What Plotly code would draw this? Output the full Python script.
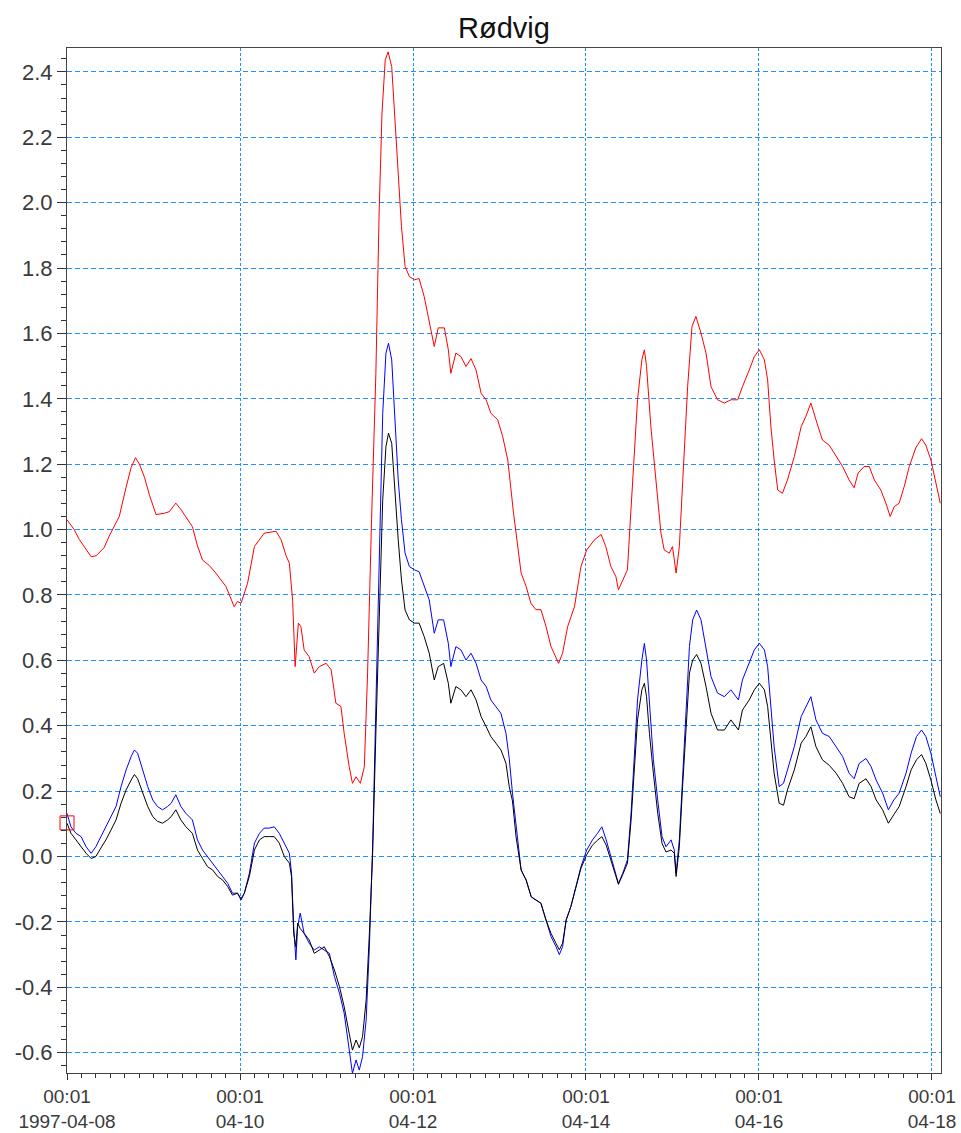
import pandas as pd
import plotly.graph_objects as go

TITLE = "Rødvig"
START = "1997-04-08 00:01"

red_hours = [0, 2.0, 3.4, 6.7, 8.1, 10.3, 11.7, 14.5, 16.4, 17.8, 19.0, 20.1, 21.5, 22.9, 24.7, 27.0, 28.4,
             30.2, 31.7, 34.8, 36.2, 37.6, 39.5, 41.3, 44.1, 46.4, 47.3, 48.3, 50.1, 52.0, 54.7, 58.0, 59.4,
             60.8, 61.7, 62.6, 63.3, 63.6, 64.2, 64.9, 65.8, 67.2, 68.6, 70.0, 71.9, 73.3, 74.6, 76.0, 76.9,
             78.3, 79.2, 80.2, 81.4, 82.5, 83.4, 84.5, 85.7, 86.6, 87.4, 88.3, 89.1, 90.1, 91.0, 91.9, 92.8,
             93.8, 95.0, 96.4, 97.7, 99.1, 100.5, 101.9, 103.0, 104.7, 105.8, 106.5, 107.9, 109.3, 110.7,
             112.1, 113.5, 114.9, 116.3, 117.6, 119.5, 120.9, 122.3, 123.9, 126.0, 127.4, 128.7, 130.1,
             131.5, 132.9, 134.3, 135.7, 136.4, 137.5, 138.9, 140.8, 142.6, 144.2, 146.3, 148.2, 149.5,
             150.9, 152.3, 153.0, 154.2, 155.5, 156.2, 157.1, 158.3, 159.5, 160.2, 160.8, 162.0, 163.4,
             164.8, 165.7, 167.1, 168.0, 169.0, 169.9, 170.8, 172.2, 173.4, 174.5, 175.9, 177.3, 178.7,
             180.5, 182.4, 184.2, 186.1, 187.4, 189.3, 190.7, 192.1, 193.5, 194.4, 195.3, 196.2, 197.2,
             198.5, 199.9, 201.8, 203.7, 205.0, 206.4, 207.8, 209.6, 211.5, 213.4, 215.2, 217.0, 218.4,
             219.5, 221.2, 222.6, 224.0, 225.8, 227.2, 228.4, 229.5, 230.9, 232.3, 233.7, 235.5, 237.1,
             238.3, 239.7, 241.1, 242.3]
red_vals = [1.03, 1.00, 0.97, 0.917, 0.92, 0.945, 0.98, 1.04, 1.13, 1.19, 1.22, 1.20, 1.16, 1.105, 1.046, 1.05, 1.055,
            1.081, 1.06, 1.009, 0.95, 0.907, 0.89, 0.867, 0.826, 0.764, 0.78, 0.775, 0.836, 0.948, 0.989, 0.995, 0.969,
            0.92, 0.897, 0.785, 0.581, 0.62, 0.714, 0.703, 0.632, 0.611, 0.561, 0.581, 0.591, 0.571, 0.469, 0.459, 0.377,
            0.275, 0.224, 0.244, 0.224, 0.275, 0.561, 1.03, 1.478, 1.968, 2.274, 2.437, 2.461, 2.416, 2.253, 2.09, 1.927,
            1.805, 1.774, 1.764, 1.768, 1.713, 1.641, 1.56, 1.617, 1.617, 1.55, 1.478, 1.54, 1.529, 1.499,
            1.523, 1.488, 1.417, 1.397, 1.356, 1.336, 1.284, 1.213, 1.05, 0.867, 0.826, 0.775, 0.755,
            0.755, 0.704, 0.642, 0.611, 0.591, 0.622, 0.703, 0.764, 0.887, 0.938, 0.968, 0.985, 0.948,
            0.887, 0.856, 0.816, 0.846, 0.877, 1.009, 1.193, 1.397, 1.519, 1.55, 1.499, 1.315, 1.152,
            0.989, 0.938, 0.928, 0.948, 0.867, 0.948, 1.152, 1.437, 1.621, 1.652, 1.601, 1.54, 1.437,
            1.397, 1.387, 1.397, 1.397, 1.437, 1.488, 1.529, 1.55, 1.519, 1.458, 1.315, 1.213, 1.121,
            1.111, 1.152, 1.223, 1.315, 1.346, 1.387, 1.336, 1.274, 1.258, 1.223, 1.193, 1.152, 1.128,
            1.173, 1.193, 1.193, 1.152, 1.121, 1.081, 1.04, 1.07, 1.081, 1.132, 1.193, 1.25, 1.278,
            1.258, 1.213, 1.142, 1.081]

blue_hours = [0, 1.1, 2.5, 3.9, 5.3, 6.7, 8.0, 9.4, 10.8, 12.2, 13.6, 15.0, 16.4, 17.8, 18.7, 19.6, 21.0, 22.4,
              23.8, 25.1, 26.5, 27.9, 28.9, 30.2, 31.6, 33.0, 34.8, 36.2, 37.6, 39.0, 40.4, 41.8, 43.2, 44.6,
              45.9, 47.3, 48.3, 49.2, 50.6, 52.0, 53.4, 54.7, 56.1, 57.5, 58.9, 60.3, 61.7, 62.3, 62.9, 63.5,
              64.0, 64.7, 65.8, 67.2, 68.6, 70.0, 71.4, 72.8, 74.2, 75.6, 76.9, 78.3, 79.2, 80.2, 81.1, 82.0,
              83.0, 83.9, 84.8, 85.7, 86.7, 87.6, 88.5, 89.2, 90.1, 91.0, 91.9, 92.8, 93.8, 95.0, 96.4, 97.7,
              99.1, 100.5, 101.9, 103.0, 104.5, 105.8, 106.5, 107.9, 109.3, 110.7, 112.1, 113.5, 114.9, 116.3,
              117.6, 119.0, 120.4, 121.8, 122.7, 123.6, 124.6, 126.0, 127.4, 128.8, 130.1, 131.5, 132.9, 134.3,
              135.7, 136.6, 137.5, 138.5, 139.8, 141.2, 142.6, 144.2, 145.8, 147.2, 148.4, 149.6, 150.9, 152.1,
              153.0, 154.2, 155.5, 156.5, 157.4, 158.3, 159.5, 160.2, 160.8, 161.6, 162.7, 163.9, 165.1, 166.2,
              167.6, 168.5, 169.0, 169.9, 170.8, 171.7, 172.7, 173.6, 174.7, 175.9, 177.3, 178.7, 180.5, 182.4,
              184.2, 186.3, 187.4, 189.3, 190.7, 192.1, 193.5, 194.4, 195.3, 196.2, 197.6, 198.8, 199.9, 201.8,
              203.7, 205.0, 206.4, 207.8, 209.6, 211.5, 213.4, 215.2, 217.0, 218.4, 219.8, 221.7, 223.1, 224.5,
              226.3, 227.9, 229.4, 230.9, 232.8, 234.2, 235.7, 237.1, 238.3, 239.7, 241.1, 242.3]
blue_vals = [0.132, 0.091, 0.071, 0.061, 0.03, 0.01, 0.03, 0.061, 0.091, 0.122, 0.153, 0.214, 0.265, 0.306, 0.326, 0.316, 0.265, 0.214,
             0.173, 0.153, 0.143, 0.153, 0.163, 0.189, 0.153, 0.132, 0.112, 0.051, 0.02, 0.0, -0.02, -0.041, -0.061, -0.082,
             -0.112, -0.112, -0.133, -0.112, -0.051, 0.041, 0.071, 0.087, 0.087, 0.091, 0.071, 0.041, 0.01, -0.051, -0.214, -0.316,
             -0.214, -0.173, -0.235, -0.265, -0.286, -0.276, -0.286, -0.296, -0.367, -0.418, -0.479, -0.602, -0.663, -0.622, -0.653, -0.612,
             -0.5, -0.276, 0.03, 0.459, 0.948, 1.356, 1.54, 1.57, 1.519, 1.315, 1.152, 1.03, 0.928, 0.887, 0.877, 0.871,
             0.826, 0.785, 0.683, 0.724, 0.724, 0.652, 0.581, 0.642, 0.632, 0.601, 0.622, 0.591, 0.54, 0.52,
             0.479, 0.459, 0.438, 0.377, 0.30, 0.194, 0.102, -0.041, -0.072, -0.123, -0.133, -0.143, -0.194, -0.245,
             -0.276, -0.3, -0.276, -0.194, -0.153, -0.092, -0.031, 0.02, 0.051, 0.071, 0.091, 0.051, 0.0, -0.041,
             -0.082, -0.051, -0.01, 0.132, 0.296, 0.479, 0.601, 0.652, 0.601, 0.459, 0.296, 0.173, 0.061, 0.03,
             0.051, 0.02, -0.051, 0.051, 0.234, 0.438, 0.642, 0.724, 0.754, 0.724, 0.642, 0.55, 0.5, 0.489,
             0.51, 0.479, 0.54, 0.591, 0.632, 0.652, 0.632, 0.581, 0.459, 0.336, 0.214, 0.224, 0.265, 0.336,
             0.428, 0.459, 0.489, 0.418, 0.377, 0.367, 0.336, 0.306, 0.255, 0.238, 0.285, 0.3, 0.275, 0.234,
             0.194, 0.143, 0.173, 0.194, 0.255, 0.316, 0.367, 0.387, 0.367, 0.316, 0.244, 0.183]

black_hours = blue_hours
black_vals = [0.102, 0.071, 0.051, 0.03, 0.01, -0.006, 0.0, 0.026, 0.051, 0.081, 0.112, 0.163, 0.204, 0.234, 0.251, 0.238, 0.194, 0.153,
              0.122, 0.108, 0.102, 0.112, 0.122, 0.143, 0.112, 0.091, 0.071, 0.02, -0.006, -0.031, -0.041, -0.061, -0.072, -0.092,
              -0.118, -0.112, -0.129, -0.112, -0.061, 0.02, 0.051, 0.061, 0.061, 0.061, 0.041, 0.0, -0.02, -0.061, -0.235, -0.276,
              -0.204, -0.22, -0.235, -0.255, -0.296, -0.286, -0.276, -0.306, -0.347, -0.398, -0.459, -0.541, -0.592, -0.561, -0.585, -0.551,
              -0.439, -0.235, 0.01, 0.377, 0.785, 1.091, 1.254, 1.295, 1.264, 1.111, 0.969, 0.846, 0.754, 0.724, 0.714, 0.714,
              0.673, 0.622, 0.54, 0.581, 0.591, 0.53, 0.469, 0.52, 0.51, 0.489, 0.51, 0.479, 0.428, 0.397,
              0.367, 0.347, 0.326, 0.285, 0.214, 0.17, 0.06, -0.041, -0.072, -0.123, -0.133, -0.143, -0.194, -0.235,
              -0.266, -0.285, -0.265, -0.194, -0.153, -0.092, -0.036, 0.006, 0.035, 0.05, 0.061, 0.035, -0.01, -0.05,
              -0.085, -0.055, -0.02, 0.11, 0.275, 0.418, 0.51, 0.53, 0.489, 0.377, 0.255, 0.132, 0.04, 0.014,
              0.02, 0.01, -0.061, 0.03, 0.214, 0.397, 0.561, 0.601, 0.618, 0.591, 0.52, 0.438, 0.387, 0.387,
              0.418, 0.387, 0.448, 0.479, 0.51, 0.53, 0.51, 0.459, 0.357, 0.255, 0.163, 0.157, 0.204, 0.265,
              0.347, 0.367, 0.397, 0.336, 0.296, 0.279, 0.255, 0.224, 0.183, 0.177, 0.224, 0.238, 0.214, 0.173,
              0.143, 0.102, 0.128, 0.153, 0.214, 0.265, 0.296, 0.312, 0.285, 0.234, 0.173, 0.132]

marker_hours = [0]
marker_vals = [0.103]

x_tick_days = [0, 2, 4, 6, 8, 10]
x_tick_text = ["00:01<br>1997-04-08", "00:01<br>04-10", "00:01<br>04-12",
               "00:01<br>04-14", "00:01<br>04-16", "00:01<br>04-18"]
y_ticks = [-0.6, -0.4, -0.2, 0.0, 0.2, 0.4, 0.6, 0.8, 1.0, 1.2, 1.4, 1.6, 1.8, 2.0, 2.2, 2.4]
y_tick_text = ["-0.6", "-0.4", "-0.2", "0.0", "0.2", "0.4", "0.6", "0.8", "1.0", "1.2",
               "1.4", "1.6", "1.8", "2.0", "2.2", "2.4"]

base = pd.Timestamp(START)


def to_time(hours):
    return base + pd.to_timedelta(hours, unit="h")


fig = go.Figure()
fig.add_trace(go.Scatter(x=to_time(red_hours), y=red_vals, mode="lines",
                         line=dict(color="#ff0000", width=1), showlegend=False))
fig.add_trace(go.Scatter(x=to_time(blue_hours), y=blue_vals, mode="lines",
                         line=dict(color="#0000ff", width=1), showlegend=False))
fig.add_trace(go.Scatter(x=to_time(black_hours), y=black_vals, mode="lines",
                         line=dict(color="#000000", width=1), showlegend=False))
fig.add_trace(go.Scatter(x=to_time(marker_hours), y=marker_vals, mode="markers",
                         marker=dict(symbol="square-open", size=14, color="#ff0000",
                                     line=dict(width=1, color="#ff0000")),
                         cliponaxis=False, showlegend=False))

tickvals = [base + pd.Timedelta(days=d) for d in x_tick_days]
minor_vals = list(pd.date_range(base, base + pd.Timedelta(hours=242), freq="4h"))

fig.update_layout(
    width=961, height=1133,
    paper_bgcolor="white", plot_bgcolor="white",
    margin=dict(l=67, r=20, t=48, b=60),
    font=dict(family="Liberation Sans, Arial, sans-serif", size=22, color="#3a3a3a"),
    title=dict(text=TITLE, x=0.5, xref="paper", xanchor="center", y=1 - 28 / 1133, yanchor="middle",
               yref="container", font=dict(size=29, color="#111111")),
    xaxis=dict(
        type="date", automargin=False,
        range=[base, base + pd.Timedelta(hours=242.5)],
        tickmode="array", tickvals=tickvals, ticktext=x_tick_text,
        tickfont=dict(size=19),
        ticks="outside", ticklen=6, tickcolor="#333333", tickwidth=1,
        showline=True, linecolor="#444444", linewidth=1, mirror=True,
        showgrid=True, gridcolor="#1e90ff", gridwidth=1, griddash="3px,2px",
        zeroline=False,
        minor=dict(tickmode="array", tickvals=minor_vals, ticks="outside", ticklen=4,
                   tickcolor="#333333", showgrid=False),
    ),
    yaxis=dict(
        automargin=False,
        range=[-0.662, 2.473],
        tickmode="array", tickvals=y_ticks, ticktext=y_tick_text,
        ticks="outside", ticklen=9, tickcolor="#333333", tickwidth=1,
        showline=True, linecolor="#444444", linewidth=1, mirror=True,
        showgrid=True, gridcolor="#1e90ff", gridwidth=1, griddash="5px,3px",
        zeroline=False,
        minor=dict(dtick=0.04, tick0=0, ticks="outside", ticklen=5,
                   tickcolor="#333333", showgrid=False),
    ),
)

fig.write_html("out.html", config={"displayModeBar": False},
               post_script="document.body.style.margin='0';")
